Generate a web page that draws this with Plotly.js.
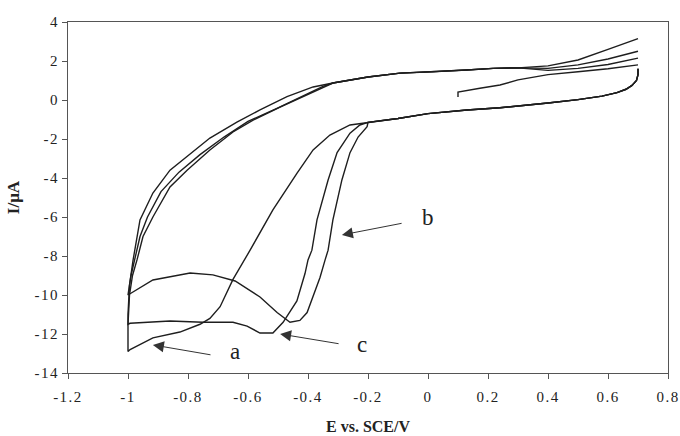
<!DOCTYPE html>
<html>
<head>
<meta charset="utf-8">
<script src="https://cdn.plot.ly/plotly-3.0.1.min.js"></script>
<style>
html,body{margin:0;padding:0;background:#fff;}
#chart{width:680px;height:436px;}
.xtick text, .ytick text{letter-spacing:1.5px;}
</style>
</head>
<body>
<div id="chart"></div>
<script>
// Shared segments (E in V, I in µA)
// descending from +0.7 along the lower (cathodic) branch
const lowerE = [0.70, 0.70, 0.695, 0.68, 0.66, 0.63, 0.58, 0.50, 0.40, 0.24, 0.13, 0.00, -0.10, -0.20];
const lowerI = [1.60, 1.30, 1.00, 0.75, 0.55, 0.38, 0.20, 0.02, -0.15, -0.40, -0.51, -0.70, -0.95, -1.15];
// common upper (anodic) branch
const upperE = [-0.317, -0.20, -0.093, 0.017, 0.13, 0.217, 0.30];
const upperI = [0.87, 1.18, 1.38, 1.44, 1.54, 1.62, 1.65];

// curve a: reduction wave, foot at -1 V, return branch (outer) and top end
const aWaveE = [-0.26, -0.327, -0.383, -0.437, -0.517, -0.593, -0.65, -0.693, -0.727, -0.76, -0.827, -0.917, -0.993, -1.0];
const aWaveI = [-1.28, -1.80, -2.56, -3.76, -5.64, -7.70, -9.20, -10.6, -11.2, -11.5, -11.9, -12.2, -12.8, -12.9];
const aBackE = [-1.0, -0.995, -0.983, -0.96, -0.917, -0.86, -0.803, -0.727, -0.637, -0.56, -0.47, -0.383];
const aBackI = [-11.0, -9.5, -8.2, -6.15, -4.77, -3.60, -2.90, -1.95, -1.13, -0.51, 0.17, 0.67];
const aTopE = [0.40, 0.50, 0.60, 0.70];
const aTopI = [1.75, 2.05, 2.60, 3.15];

// curve b
const bWaveE = [-0.203, -0.233, -0.26, -0.287, -0.317, -0.333, -0.343, -0.36, -0.403, -0.427, -0.46, -0.503, -0.56, -0.643, -0.717, -0.793, -0.917, -0.983, -1.0];
const bWaveI = [-1.37, -1.90, -2.70, -4.10, -6.15, -7.70, -8.20, -9.10, -10.9, -11.3, -11.4, -10.9, -10.1, -9.28, -8.97, -8.87, -9.23, -9.85, -10.0];
const bBackE = [-0.99, -0.975, -0.96, -0.935, -0.89, -0.83, -0.76, -0.68, -0.60, -0.50, -0.40, -0.35];
const bBackI = [-9.0, -8.0, -7.0, -6.0, -4.7, -3.7, -2.8, -1.9, -1.1, -0.4, 0.35, 0.70];
const bTopE = [0.40, 0.50, 0.60, 0.70];
const bTopI = [1.62, 1.80, 2.10, 2.50];

// curve c
const cWaveE = [-0.227, -0.26, -0.303, -0.333, -0.37, -0.387, -0.40, -0.41, -0.437, -0.483, -0.517, -0.56, -0.603, -0.65, -0.75, -0.86, -0.993, -1.0];
const cWaveI = [-1.28, -1.70, -2.70, -4.10, -6.15, -7.70, -8.20, -8.90, -10.3, -11.4, -11.95, -11.95, -11.6, -11.4, -11.4, -11.33, -11.45, -11.5];
const cBackE = [-0.995, -0.985, -0.97, -0.95, -0.917, -0.86, -0.803, -0.727, -0.65, -0.583, -0.493, -0.383, -0.33];
const cBackI = [-10.0, -9.0, -8.2, -7.0, -6.0, -4.46, -3.60, -2.56, -1.64, -1.03, -0.36, 0.41, 0.80];
const cTopE = [0.40, 0.50, 0.60, 0.70];
const cTopI = [1.52, 1.62, 1.82, 2.15];

// initial sweep from the starting potential
const startE = [0.10, 0.10, 0.173, 0.24, 0.30, 0.40, 0.50, 0.60, 0.70];
const startI = [0.15, 0.41, 0.60, 0.77, 1.03, 1.30, 1.45, 1.60, 1.80];

// labels and arrows
const labelText = ['a', 'b', 'c'];
const labelE = [-0.643, 0.0, -0.22];
const labelI = [-12.92, -6.05, -12.56];
const arrowTipE = [-0.917, -0.287, -0.493];
const arrowTipI = [-12.56, -6.92, -12.0];
const arrowTailE = [-0.72, -0.083, -0.293];
const arrowTailI = [-13.08, -6.31, -12.51];

const xTicks = [-1.2, -1, -0.8, -0.6, -0.4, -0.2, 0, 0.2, 0.4, 0.6, 0.8];
const yTicks = [-14, -12, -10, -8, -6, -4, -2, 0, 2, 4];

function loop(waveE, waveI, backE, backI, topE, topI) {
  return {
    x: [].concat(lowerE, waveE, backE, upperE, topE),
    y: [].concat(lowerI, waveI, backI, upperI, topI)
  };
}
const curves = [
  loop(aWaveE, aWaveI, aBackE, aBackI, aTopE, aTopI),
  loop(bWaveE, bWaveI, bBackE, bBackI, bTopE, bTopI),
  loop(cWaveE, cWaveI, cBackE, cBackI, cTopE, cTopI),
  {x: startE, y: startI}
];
const lineStyle = {color: '#1e1e1e', width: 1.4};
const traces = curves.map(c => ({
  x: c.x, y: c.y, type: 'scatter', mode: 'lines', line: lineStyle, hoverinfo: 'skip'
}));

const font = {family: 'Liberation Serif, Times New Roman, serif', color: '#222'};
const annotations = [];
for (let i = 0; i < labelText.length; i++) {
  annotations.push({
    x: arrowTipE[i], y: arrowTipI[i], ax: arrowTailE[i], ay: arrowTailI[i],
    xref: 'x', yref: 'y', axref: 'x', ayref: 'y', text: '', showarrow: true,
    arrowhead: 2, arrowsize: 2.2, arrowwidth: 1, arrowcolor: '#333', standoff: 0
  });
  annotations.push({
    x: labelE[i], y: labelI[i], xref: 'x', yref: 'y', text: labelText[i], showarrow: false,
    font: Object.assign({}, font, {size: 23})
  });
}

const axisCommon = {
  showline: true, linecolor: '#555', linewidth: 1, mirror: true,
  ticks: 'outside', ticklen: 5, tickcolor: '#555', tickwidth: 1,
  showgrid: false, zeroline: false,
  tickfont: Object.assign({}, font, {size: 15})
};

const layout = {
  width: 680, height: 436,
  margin: {l: 68, r: 12, t: 22, b: 63},
  paper_bgcolor: '#fff', plot_bgcolor: '#fff',
  showlegend: false,
  xaxis: Object.assign({}, axisCommon, {
    range: [-1.2, 0.8], tickvals: xTicks, ticktext: xTicks.map(String),
    ticklabelstandoff: 5,
    title: {text: '<b>E vs. SCE/V</b>', font: Object.assign({}, font, {size: 16}), standoff: 16}
  }),
  yaxis: Object.assign({}, axisCommon, {
    range: [-14, 4], tickvals: yTicks, ticktext: yTicks.map(String),
    title: {text: '<b>I/μA</b>', font: Object.assign({}, font, {size: 17}), standoff: 10}
  }),
  annotations: annotations
};

Plotly.newPlot('chart', traces, layout, {staticPlot: true, displayModeBar: false});
</script>
</body>
</html>
